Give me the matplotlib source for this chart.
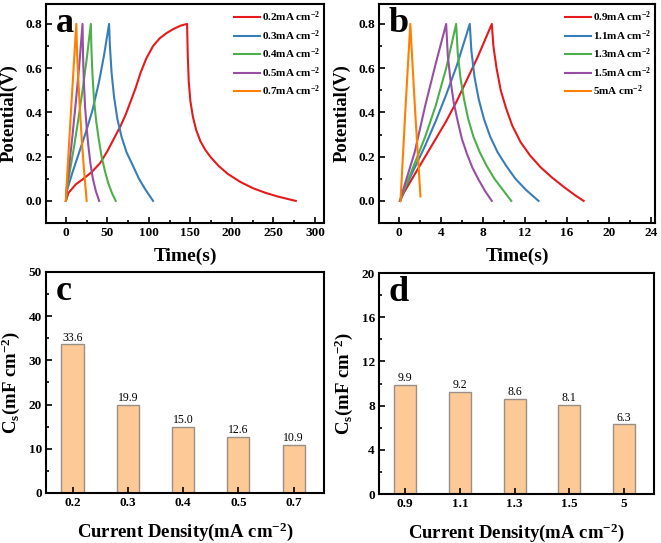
import numpy as np
import matplotlib
matplotlib.use('Agg')
import matplotlib.pyplot as plt
from matplotlib.ticker import MultipleLocator

plt.rcParams['font.family'] = 'Liberation Serif'
plt.rcParams['font.weight'] = 'bold'
plt.rcParams['mathtext.fontset'] = 'custom'
plt.rcParams['mathtext.rm'] = 'Liberation Serif:bold'
plt.rcParams['mathtext.bf'] = 'Liberation Serif:bold'
plt.rcParams['mathtext.default'] = 'rm'

# ---- panel a: GCD curves, low current densities ----
labels_a = ['0.2', '0.3', '0.4', '0.5', '0.7']
t_a02 = [0, 3, 12, 21, 31, 41, 50, 59, 66, 72, 78, 84, 90, 97, 105, 113, 121, 129, 138, 146,
         146.8, 148, 150, 153, 157, 162, 168, 175, 184, 195, 210, 225, 240, 255, 268, 277]
v_a02 = [0, 0.036, 0.075, 0.100, 0.130, 0.170, 0.225, 0.290, 0.340, 0.390, 0.450, 0.510, 0.580,
         0.645, 0.700, 0.735, 0.758, 0.776, 0.792, 0.800,
         0.66, 0.54, 0.45, 0.38, 0.32, 0.27, 0.23, 0.195, 0.158, 0.122, 0.086, 0.058, 0.037,
         0.020, 0.008, 0.0]
t_a03 = [0, 1.5, 8, 16, 24, 32, 40, 46, 52, 53, 55, 58, 62, 67, 73, 80, 88, 96, 105]
v_a03 = [0, 0.05, 0.13, 0.22, 0.31, 0.41, 0.54, 0.66, 0.80,
         0.70, 0.58, 0.47, 0.37, 0.29, 0.22, 0.165, 0.10, 0.05, 0.0]
t_a04 = [0, 1, 5, 10, 15, 20, 25, 30, 30.8, 32, 34, 36.5, 39.5, 43, 47, 51, 55.5, 60]
v_a04 = [0, 0.05, 0.14, 0.25, 0.37, 0.50, 0.64, 0.80,
         0.68, 0.57, 0.45, 0.36, 0.28, 0.20, 0.135, 0.08, 0.035, 0.0]
t_a05 = [0, 1, 4, 8, 12, 16, 20, 20.6, 21.5, 23, 25, 27, 29.5, 32.5, 36, 40]
v_a05 = [0, 0.06, 0.16, 0.30, 0.45, 0.61, 0.80,
         0.66, 0.55, 0.43, 0.33, 0.25, 0.17, 0.10, 0.045, 0.0]
t_a07 = [0, 1, 6, 12.5, 13.5, 16, 19, 22, 25]
v_a07 = [0, 0.08, 0.40, 0.80, 0.66, 0.47, 0.28, 0.13, 0.0]

# ---- panel b: GCD curves, high current densities ----
labels_b = ['0.9', '1.1', '1.3', '1.5', '5']
t_b09 = [0.1, 0.5, 1.5, 2.5, 3.5, 4.5, 5.5, 6.5, 7.5, 8.85,
         9.0, 9.3, 9.7, 10.2, 10.8, 11.6, 12.5, 13.5, 14.6, 15.8, 16.8, 17.6]
v_b09 = [0, 0.04, 0.12, 0.20, 0.28, 0.36, 0.45, 0.55, 0.65, 0.80,
         0.70, 0.60, 0.50, 0.42, 0.34, 0.265, 0.205, 0.152, 0.105, 0.06, 0.025, 0.0]
t_b11 = [0.1, 0.5, 1.5, 2.5, 3.5, 4.5, 5.5, 6.75,
         6.9, 7.2, 7.6, 8.1, 8.7, 9.4, 10.2, 11.1, 12.1, 13.3]
v_b11 = [0, 0.05, 0.15, 0.25, 0.36, 0.48, 0.61, 0.80,
         0.68, 0.56, 0.46, 0.37, 0.29, 0.22, 0.16, 0.10, 0.05, 0.0]
t_b13 = [0.1, 0.5, 1.5, 2.5, 3.5, 4.5, 5.45,
         5.6, 5.85, 6.2, 6.6, 7.1, 7.7, 8.4, 9.1, 9.9, 10.7]
v_b13 = [0, 0.05, 0.17, 0.29, 0.43, 0.60, 0.80,
         0.67, 0.56, 0.46, 0.37, 0.29, 0.22, 0.155, 0.10, 0.05, 0.0]
t_b15 = [0.1, 0.4, 1.5, 2.5, 3.5, 4.5,
         4.65, 4.9, 5.2, 5.6, 6.0, 6.5, 7.0, 7.6, 8.2, 8.85]
v_b15 = [0, 0.05, 0.22, 0.43, 0.62, 0.80,
         0.66, 0.55, 0.45, 0.36, 0.28, 0.21, 0.15, 0.095, 0.045, 0.0]
t_b5 = [0.15, 0.6, 1.08, 1.55, 2.05]
v_b5 = [0, 0.40, 0.80, 0.40, 0.02]

# ---- panels c, d: areal capacitance ----
cd_c = ['0.2', '0.3', '0.4', '0.5', '0.7']
cs_c = [33.6, 19.9, 15.0, 12.6, 10.9]
cd_d = ['0.9', '1.1', '1.3', '1.5', '5']
cs_d = [9.9, 9.2, 8.6, 8.1, 6.3]

colors = ['#E41A1C', '#377EB8', '#4DAF4A', '#984EA3', '#FF7F00']
bar_color = '#FDC996'
bar_edge = '#9A8F86'

fig = plt.figure(figsize=(6.61, 5.43), dpi=100)
ax_a = fig.add_axes([0.0696, 0.5893, 0.4206, 0.4033])
ax_b = fig.add_axes([0.5734, 0.5893, 0.4175, 0.4033])
ax_c = fig.add_axes([0.0696, 0.0921, 0.4206, 0.4070])
ax_d = fig.add_axes([0.5734, 0.0902, 0.4160, 0.4070])


def style(ax):
    for s in ax.spines.values():
        s.set_linewidth(1.5)
    ax.tick_params(which='both', direction='in', top=False, right=False,
                   width=1.2, labelsize=9.5, pad=3)
    ax.tick_params(which='major', length=4)
    ax.tick_params(which='minor', length=2)


curves_a = [(t_a02, v_a02), (t_a03, v_a03), (t_a04, v_a04), (t_a05, v_a05), (t_a07, v_a07)]
curves_b = [(t_b09, v_b09), (t_b11, v_b11), (t_b13, v_b13), (t_b15, v_b15), (t_b5, v_b5)]

for ax, curves, labs, xlim, major, minor, letter in [
        (ax_a, curves_a, labels_a, (-24, 311), 50, 25, 'a'),
        (ax_b, curves_b, labels_b, (-1.9, 24.4), 4, 2, 'b')]:
    for (t, v), lab, c in zip(curves, labs, colors):
        ax.plot(t, v, color=c, lw=1.5, label=lab + r'mA cm$^{-2}$')
    ax.set_xlim(*xlim)
    ax.set_ylim(-0.1, 0.89)
    ax.xaxis.set_major_locator(MultipleLocator(major))
    ax.xaxis.set_minor_locator(MultipleLocator(minor))
    ax.yaxis.set_major_locator(MultipleLocator(0.2))
    ax.yaxis.set_minor_locator(MultipleLocator(0.1))
    style(ax)
    ax.set_xlabel('Time(s)', fontsize=14, fontweight='bold', labelpad=6)
    ax.set_ylabel('Potential(V)', fontsize=13.5, fontweight='bold', labelpad=5)
    ax.legend(loc='upper right', bbox_to_anchor=(0.985, 0.975), frameon=False,
              fontsize=8, handlelength=2.4, handletextpad=0.1,
              labelspacing=0.35, borderaxespad=0, borderpad=0)
    ax.text(0.035, 0.985, letter, transform=ax.transAxes, fontsize=26,
            fontweight='bold', va='top', ha='left')

for ax, cats, vals, ymax, major, minor, letter in [
        (ax_c, cd_c, cs_c, 50, 10, 5, 'c'),
        (ax_d, cd_d, cs_d, 20, 4, 2, 'd')]:
    x = np.arange(len(cats))
    bars = ax.bar(x, vals, width=0.4, color=bar_color, edgecolor=bar_edge, lw=1)
    for xi, v in zip(x, vals):
        ax.text(xi, v + ymax * 0.004, '%.1f' % v, ha='center', va='bottom',
                fontsize=8.5, fontweight='normal')
    ax.set_xticks(x)
    ax.set_xticklabels(cats)
    ax.set_xlim(-0.48, 4.55)
    ax.set_ylim(0, ymax)
    ax.yaxis.set_major_locator(MultipleLocator(major))
    ax.yaxis.set_minor_locator(MultipleLocator(minor))
    style(ax)
    ax.set_xlabel(r'Current Density(mA cm$^{-2}$)', fontsize=13.5,
                  fontweight='bold', labelpad=8)
    ax.set_ylabel(r'C$_{s}$(mF cm$^{-2}$)', fontsize=13.5,
                  fontweight='bold', labelpad=5)
    ax.text(0.035, 0.985, letter, transform=ax.transAxes, fontsize=26,
            fontweight='bold', va='top', ha='left')

fig.savefig('out.png', dpi=100)
